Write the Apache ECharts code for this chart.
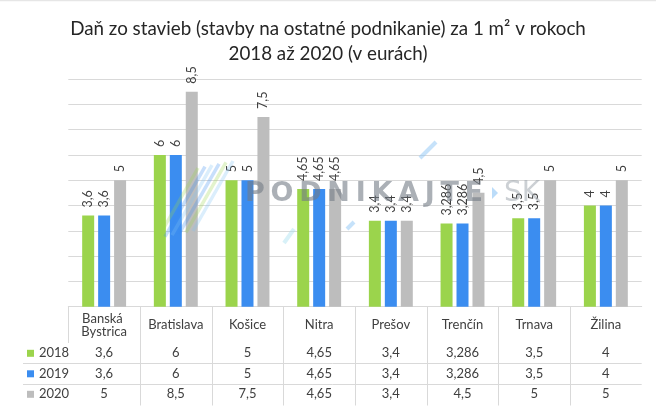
<!DOCTYPE html>
<html>
<head>
<meta charset="utf-8">
<script src="https://cdn.jsdelivr.net/npm/echarts@6/dist/echarts.min.js"></script>
<style>
html,body{margin:0;padding:0;background:#fff;}
#c{width:656px;height:411px;}
</style>
</head>
<body>
<div id="c"></div>
<script>
const titleText = 'Daň zo stavieb (stavby na ostatné podnikanie) za 1 m² v rokoch\n2018 až 2020 (v eurách)';
const categories = ['Banská Bystrica', 'Bratislava', 'Košice', 'Nitra', 'Prešov', 'Trenčín', 'Trnava', 'Žilina'];
const years = ['2018', '2019', '2020'];
const v2018 = [3.6, 6, 5, 4.65, 3.4, 3.286, 3.5, 4];
const v2019 = [3.6, 6, 5, 4.65, 3.4, 3.286, 3.5, 4];
const v2020 = [5, 8.5, 7.5, 4.65, 3.4, 4.5, 5, 5];
const yMin = 0, yMax = 9, yStep = 1;
const watermarkWord = 'PODNIKAJTE';
const watermarkSuffix = 'SK';

const seriesValues = [v2018, v2019, v2020];
const colors = ['#9BD44C', '#3B8DF0', '#BDBDBD'];
const FONT = 'Lato';
const TXT = '#404040';
const LINE = '#D9D9D9';
const fmt = v => String(v).replace('.', ',');

const chart = echarts.init(document.getElementById('c'), null, {renderer: 'canvas'});

const gridTop = 79, gridBottomY = 306.7, gridLeft = 68.3, gridRight = 641.7;
const rowCenters = [353.3, 373.8, 394.3];

const option = {
  animation: false,
  backgroundColor: '#fff',
  title: {
    text: titleText,
    left: 'center', top: 11,
    textStyle: {fontFamily: FONT, fontSize: 18.8, fontWeight: 'normal', color: '#262626', lineHeight: 25}
  },
  legend: {
    orient: 'vertical', left: 27, top: rowCenters[0] - 7.5, padding: 0,
    itemWidth: 7, itemHeight: 7, itemGap: 5.5,
    icon: 'rect',
    data: years,
    textStyle: {fontFamily: FONT, fontSize: 13, color: TXT, lineHeight: 15},
    selectedMode: false
  },
  grid: {left: gridLeft, right: 656 - gridRight, top: gridTop, bottom: 411 - gridBottomY, containLabel: false},
  xAxis: {
    type: 'category',
    data: categories,
    axisLine: {show: true, lineStyle: {color: LINE, width: 1}},
    axisTick: {show: false},
    axisLabel: {
      interval: 0, margin: 18.5, verticalAlign: 'middle', lineHeight: 13.5,
      width: 66, overflow: 'break', fontFamily: FONT, fontSize: 13, color: TXT
    }
  },
  yAxis: {
    type: 'value', min: yMin, max: yMax, interval: yStep,
    axisLabel: {show: false}, axisLine: {show: false}, axisTick: {show: false},
    splitLine: {lineStyle: {color: LINE, width: 1}}
  },
  series: years.map((y, k) => ({
    name: y,
    type: 'bar',
    data: seriesValues[k],
    barWidth: 12,
    barGap: '33%',
    itemStyle: {color: colors[k]},
    label: {
      show: true, position: 'top', rotate: 90, distance: 8,
      align: 'left', verticalAlign: 'middle',
      fontFamily: FONT, fontSize: 12.5, color: TXT,
      formatter: p => fmt(p.value)
    }
  }))
};
chart.setOption(option);

// data table + lines + watermark, positioned from the category axis
const g = [];
const centers = categories.map(c => chart.convertToPixel({xAxisIndex: 0}, c));
const band = centers[1] - centers[0];
seriesValues.forEach((arr, k) => {
  arr.forEach((v, i) => {
    g.push({type: 'text', silent: true, x: centers[i], y: rowCenters[k],
      style: {text: fmt(v), align: 'center', verticalAlign: 'middle', fontFamily: FONT, fontSize: 13, fill: TXT}});
  });
});
for (let i = 1; i < categories.length; i++) {
  const x = Math.round(centers[0] - band / 2 + i * band) + 0.5;
  g.push({type: 'line', silent: true, shape: {x1: x, y1: gridBottomY, x2: x, y2: 405.5}, style: {stroke: LINE, lineWidth: 1}});
}
const lx = Math.round(centers[0] - band / 2) + 0.5;
g.push({type: 'line', silent: true, shape: {x1: lx, y1: gridBottomY, x2: lx, y2: 343}, style: {stroke: LINE, lineWidth: 1}});
[363.5, 384.5].forEach(y => {
  g.push({type: 'line', silent: true, shape: {x1: 23, y1: y, x2: gridRight, y2: y}, style: {stroke: LINE, lineWidth: 1}});
});
g.push({type: 'line', silent: true, shape: {x1: 0, y1: 0.5, x2: 656, y2: 0.5}, style: {stroke: '#E6E6E6', lineWidth: 1.5}});

// watermark (overlaid on the chart)
const WZ = 200;
const stripeCols = ['#9BD44C', '#3B8DF0', '#7EC3F5', '#3B8DF0', '#9BD44C', '#7EC3F5'];
for (let s = 0; s < 6; s++) {
  const off = s * 7;
  g.push({type: 'line', silent: true, z: WZ, shape: {x1: 158 + off, y1: 238 - off * 0.2, x2: 198 + off, y2: 168 - off * 0.2},
    style: {stroke: stripeCols[s], lineWidth: 3.5, opacity: 0.28}});
}
g.push({type: 'line', silent: true, z: WZ, shape: {x1: 420, y1: 158, x2: 436, y2: 142}, style: {stroke: '#8EC5F5', lineWidth: 4, opacity: 0.5}});
g.push({type: 'line', silent: true, z: WZ, shape: {x1: 347, y1: 229, x2: 354, y2: 222}, style: {stroke: '#8EC5F5', lineWidth: 4, opacity: 0.5}});
g.push({type: 'line', silent: true, z: WZ, shape: {x1: 284, y1: 243, x2: 294, y2: 229}, style: {stroke: '#A8E0F0', lineWidth: 4, opacity: 0.45}});
g.push({type: 'polygon', silent: true, z: WZ, shape: {points: [[492, 187], [498, 193], [492, 199]]}, style: {fill: '#8EC5F5', opacity: 0.6}});
const WFONT = 'DejaVu Sans';
const mctx = document.createElement('canvas').getContext('2d');
mctx.font = 'bold 27px "' + WFONT + '"';
const letters = watermarkWord.split('');
const widths = letters.map(ch => mctx.measureText(ch).width);
const total = widths.reduce((a, b) => a + b, 0);
const spacing = Math.max(0, (483 - 245 - total) / (letters.length - 1));
let cx = 245;
letters.forEach((ch, i) => {
  g.push({type: 'text', silent: true, z: WZ, x: cx, y: 193.5,
    style: {text: ch, verticalAlign: 'middle', fontFamily: WFONT, fontWeight: 'bold', fontSize: 27, fill: '#737B86', opacity: 0.6}});
  cx += widths[i] + spacing;
});
g.push({type: 'text', silent: true, z: WZ, x: 504, y: 193.5,
  style: {text: watermarkSuffix, verticalAlign: 'middle', fontFamily: 'DejaVu Sans', fontWeight: 'normal', fontSize: 28, fill: '#9AA1AA', opacity: 0.5}});
chart.setOption({graphic: g});
</script>
</body>
</html>
